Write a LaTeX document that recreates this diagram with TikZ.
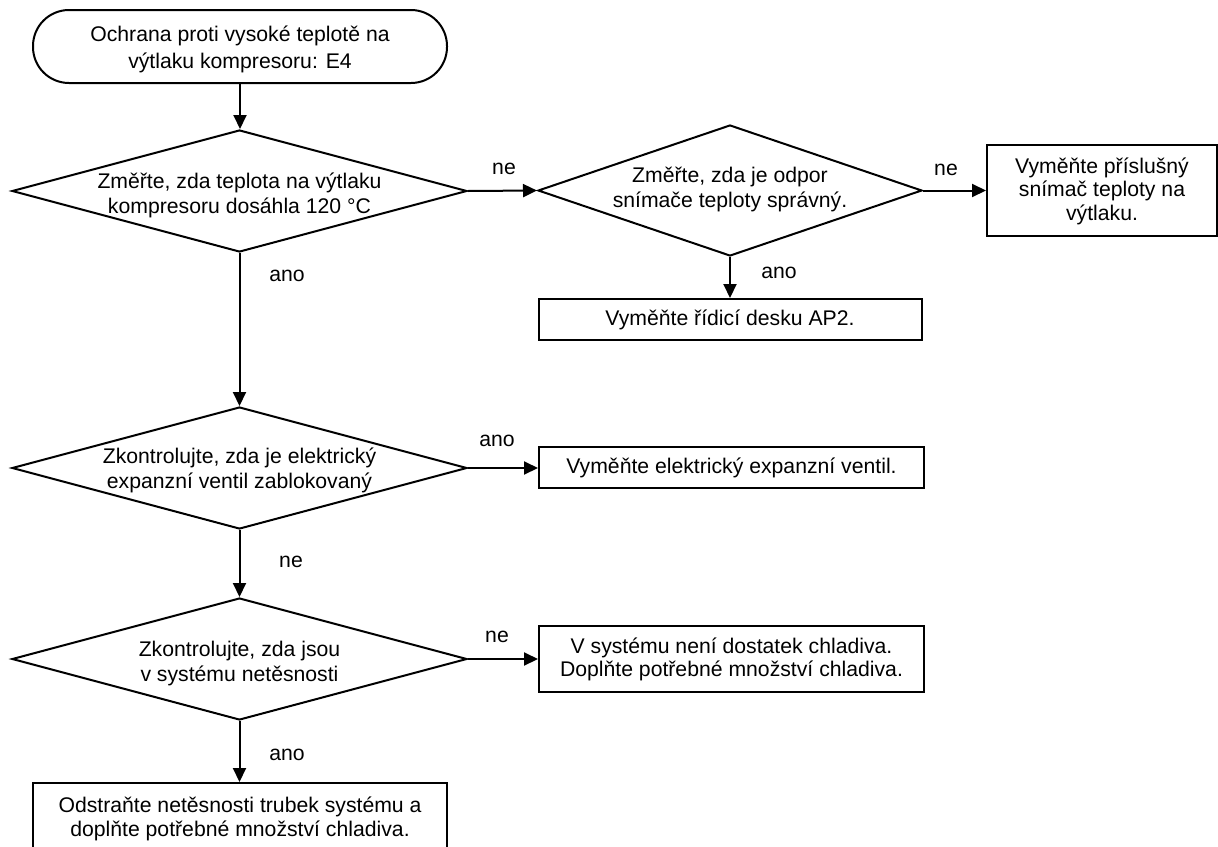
\documentclass[tikz,border=0pt]{standalone}
\usepackage{fontspec}
\setmainfont{Liberation Sans}
\usetikzlibrary{arrows.meta,shapes.geometric}
\newcommand{\myl}[1]{\smash{#1}\rule[-5.5pt]{0pt}{\baselineskip}}
\newcommand{\boxfont}{\fontsize{21.2}{23.5}\selectfont}
\newcommand{\diafont}{\fontsize{21.2}{25}\selectfont}
\newcommand{\termfont}{\fontsize{21.2}{27}\selectfont}
\begin{document}
\begin{tikzpicture}[x=1pt,y=-1pt,
  base/.style={line width=2pt, draw=black},
  box/.style={base, rectangle, inner sep=0pt, align=center, font=\boxfont},
  term/.style={base, rectangle, rounded corners=36pt, inner sep=0pt, align=center, font=\termfont},
  dia/.style={base, diamond, inner sep=0pt},
  dtext/.style={inner sep=0pt, align=center, font=\diafont},
  lbl/.style={inner sep=0pt, font=\boxfont},
  arr/.style={line width=2pt, -{Triangle[length=14pt,width=13pt]}}]
\useasboundingbox (0,0) rectangle (1218,846);
\fill[white] (0,0) rectangle (1218,846);

% start
\node[term, minimum width=414pt, minimum height=73pt] (start) at (240,46.5)
  {\myl{Ochrana proti vysoké teplotě na}\\\myl{výtlaku kompresoru: E4}};

% decisions
\node[dia, minimum width=455pt, minimum height=122pt] (d1) at (239.5,191) {};
\node[dtext] (d1t) at (239.5,194) {\myl{Změřte, zda teplota na výtlaku}\\\myl{kompresoru dosáhla 120 °C}};

\node[dia, minimum width=384pt, minimum height=131pt] (dr) at (730,190.5) {};
\node[dtext] (drt) at (730,188) {\myl{Změřte, zda je odpor}\\\myl{snímače teploty správný.}};

\node[dia, minimum width=455pt, minimum height=122pt] (d2) at (239.5,468) {};
\node[dtext] (d2t) at (239.5,469) {\myl{Zkontrolujte, zda je elektrický}\\\myl{expanzní ventil zablokovaný}};

\node[dia, minimum width=455pt, minimum height=122pt] (d3) at (239.5,659) {};
\node[dtext] (d3t) at (239.5,662) {\myl{Zkontrolujte, zda jsou}\\\myl{v systému netěsnosti}};

% boxes
\node[box, minimum width=230pt, minimum height=91pt] (sensor) at (1102,190.5)
  {\myl{Vyměňte příslušný}\\\myl{snímač teploty na}\\\myl{výtlaku.}};
\node[box, minimum width=383pt, minimum height=41pt] (ap2) at (730,319.5)
  {\myl{Vyměňte řídicí desku AP2.}};
\node[box, minimum width=385pt, minimum height=41pt] (valve) at (731.5,467)
  {\myl{Vyměňte elektrický expanzní ventil.}};
\node[box, minimum width=385pt, minimum height=66pt] (refr) at (731.5,658.5)
  {\myl{V systému není dostatek chladiva.}\\\myl{Doplňte potřebné množství chladiva.}};
\node[box, minimum width=414pt, minimum height=70pt] (fin) at (240,818)
  {\myl{Odstraňte netěsnosti trubek systému a}\\\myl{doplňte potřebné množství chladiva.}};

% connectors
\draw[arr] (start.south) -- (start.south |- d1.north);
\draw[arr] (d1.south) -- (d2.north);
\draw[arr] (d2.south) -- (d3.north);
\draw[arr] (d3.south) -- (d3.south |- fin.north);
\draw[arr] (d1.east) -- (dr.west);
\draw[arr] (dr.east) -- (sensor.west);
\draw[arr] (dr.south) -- (dr.south |- ap2.north);
\draw[arr] (d2.east) -- (d2.east -| valve.west);
\draw[arr] (d3.east) -- (d3.east -| refr.west);

% labels
\node[lbl] (l1) at (504,169) {ne};
\node[lbl] (l2) at (946,170) {ne};
\node[lbl] (l3) at (287,276) {ano};
\node[lbl] (l4) at (779,273) {ano};
\node[lbl] (l5) at (497,441) {ano};
\node[lbl] (l6) at (291,562) {ne};
\node[lbl] (l7) at (497,637) {ne};
\node[lbl] (l8) at (287,755) {ano};
\end{tikzpicture}
\end{document}
